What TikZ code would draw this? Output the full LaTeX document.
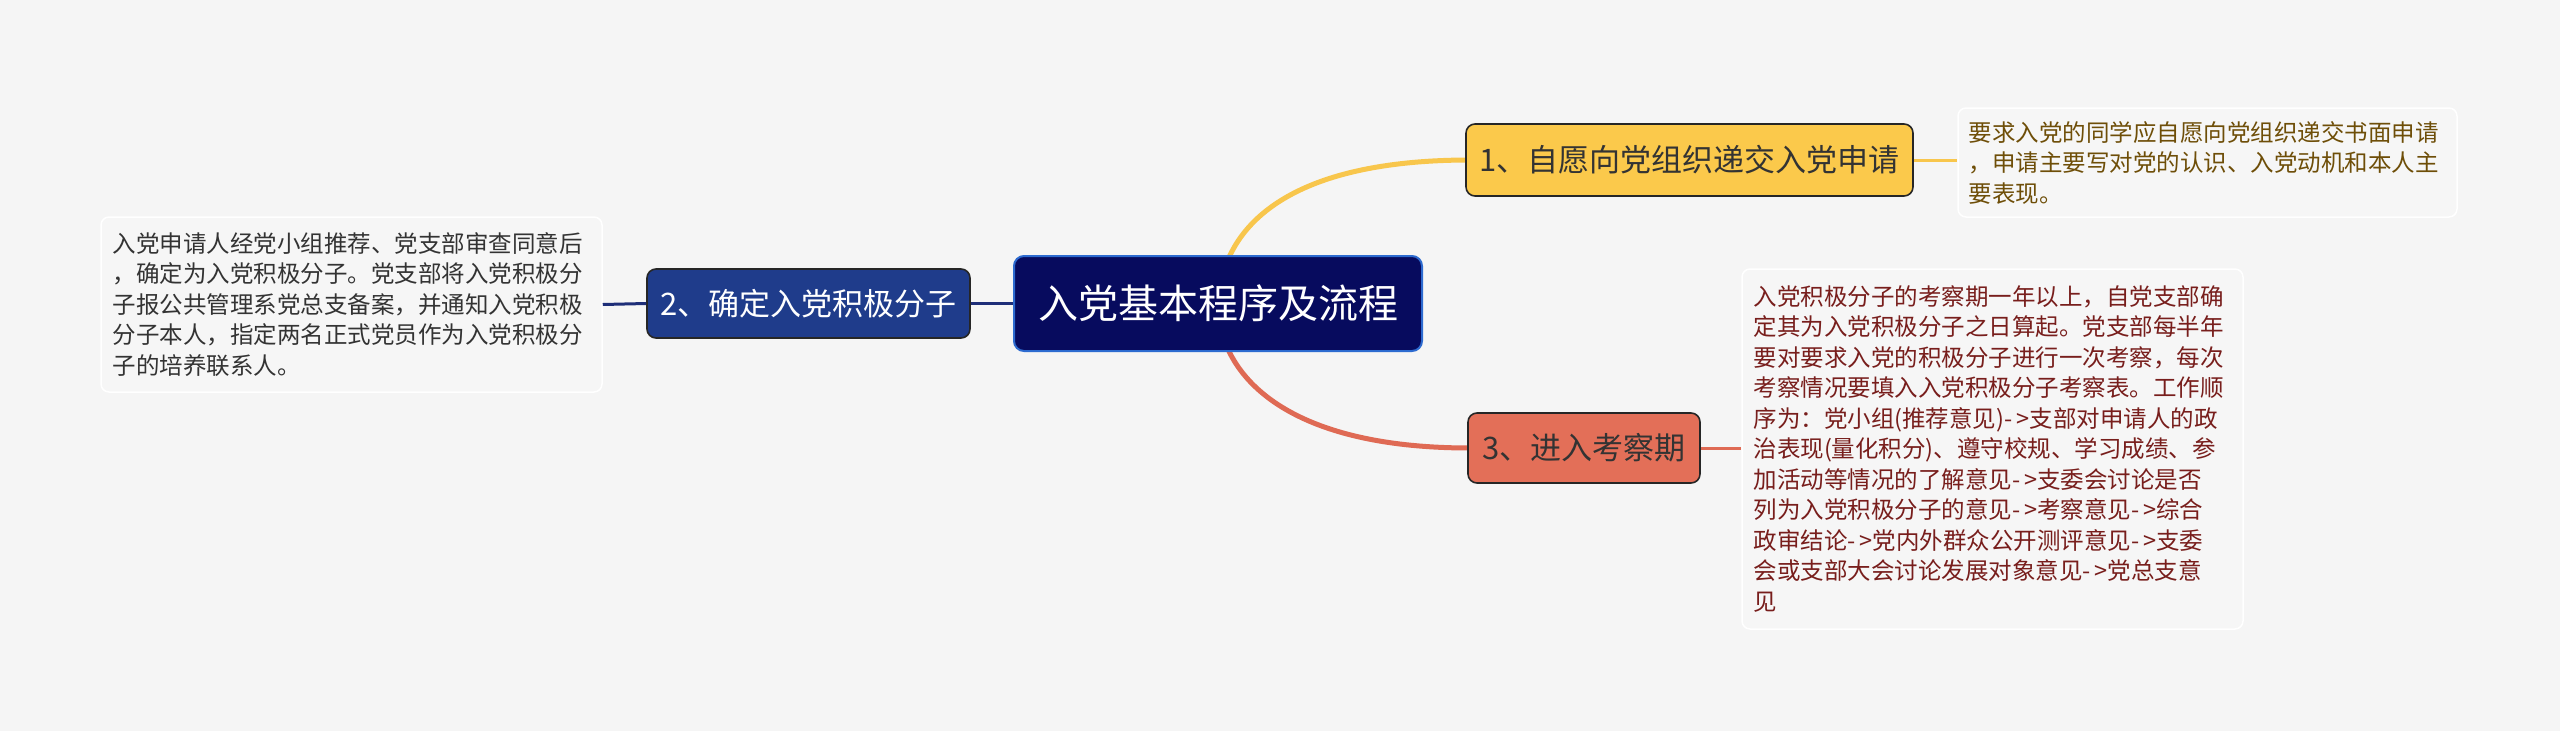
\documentclass[tikz,border=0pt]{standalone}
\usepackage{fontspec}
\setmainfont{Noto Sans CJK SC}
\definecolor{bg}{HTML}{F5F5F5}
\definecolor{boxbg}{HTML}{F6F6F6}
\definecolor{navy}{HTML}{070B5E}
\definecolor{navyborder}{HTML}{2D6BD0}
\definecolor{bluebox}{HTML}{1F3C8B}
\definecolor{blueline}{HTML}{1E2E78}
\definecolor{yel}{HTML}{FBC94B}
\definecolor{yelline}{HTML}{F8C64C}
\definecolor{sal}{HTML}{E36F58}
\definecolor{salline}{HTML}{DF6A54}
\definecolor{txtgray}{HTML}{333333}
\definecolor{txtbrown}{HTML}{6E4E08}
\definecolor{txtred}{HTML}{781E1C}
\begin{document}
\begin{tikzpicture}[x=1pt,y=-1pt,
  textbox/.style={draw=white, line width=1.5pt, fill=boxbg, rounded corners=8pt,
    inner sep=0pt, align=left, text width=478pt,
    font=\fontsize{23.5}{30.5}\selectfont},
  topicbox/.style={draw=black!85, line width=1.6pt, rounded corners=9pt,
    inner sep=0pt, font=\fontsize{31}{36}\selectfont},
  curve/.style={line width=5pt},
  conn/.style={line width=3pt}
]
\fill[bg] (0,0) rectangle (2560,731);
\useasboundingbox (0,0) rectangle (2560,731);

% connectors (behind nodes)
\coordinate (cyel) at (1227,262);
\coordinate (csal) at (1227,347);
\draw[curve, yelline] (cyel) .. controls (1250,205) and (1320,160) .. (1470,160) coordinate (b1in);
\draw[curve, salline] (csal) .. controls (1250,400) and (1320,448) .. (1470,448) coordinate (b3in);

% central topic
\node[draw=navyborder, line width=2pt, fill=navy, rounded corners=10pt,
  minimum width=408pt, minimum height=95pt, inner sep=0pt, text=white,
  font=\fontsize{40}{46}\selectfont] (c) at (1218,303.5) {入党基本程序及流程};

% main topics
\node[topicbox, fill=bluebox, text=white, minimum width=323pt, minimum height=69pt]
  (b2) at (808.5,303.5) {2、确定入党积极分子};
\node[topicbox, fill=yel, text=txtgray, minimum width=447pt, minimum height=72pt]
  (b1) at (1689.5,160) {1、自愿向党组织递交入党申请};
\node[topicbox, fill=sal, text=txtgray, minimum width=232pt, minimum height=70pt]
  (b3) at (1584,448) {3、进入考察期};

% detail boxes
\node[textbox, text=txtgray, minimum width=501pt, minimum height=175pt]
  (t2) at (351.5,304.5) {入党申请人经党小组推荐、党支部审查同意后\\
，确定为入党积极分子。党支部将入党积极分\\
子报公共管理系党总支备案，并通知入党积极\\
分子本人，指定两名正式党员作为入党积极分\\
子的培养联系人。};
\node[textbox, text=txtbrown, minimum width=499pt, minimum height=109pt]
  (t1) at (2207.5,162.5) {要求入党的同学应自愿向党组织递交书面申请\\
，申请主要写对党的认识、入党动机和本人主\\
要表现。};
\node[textbox, text=txtred, minimum width=501pt, minimum height=360pt]
  (t3) at (1992.5,449) {入党积极分子的考察期一年以上，自党支部确\\
定其为入党积极分子之日算起。党支部每半年\\
要对要求入党的积极分子进行一次考察，每次\\
考察情况要填入入党积极分子考察表。工作顺\\
序为：党小组(推荐意见)-\,>支部对申请人的政\\
治表现(量化积分)、遵守校规、学习成绩、参\\
加活动等情况的了解意见-\,>支委会讨论是否\\
列为入党积极分子的意见-\,>考察意见-\,>综合\\
政审结论-\,>党内外群众公开测评意见-\,>支委\\
会或支部大会讨论发展对象意见-\,>党总支意\\
见};

% connectors between nodes
\draw[conn, blueline, line width=3.5pt] (c.west) -- (b2.east);
\draw[conn, blueline] (b2.west) -- (t2.east);
\draw[conn, yelline] (b1.east) -- (t1.west |- b1.east);
\draw[conn, salline] (b3.east) -- (t3.west |- b3.east);
\end{tikzpicture}
\end{document}
